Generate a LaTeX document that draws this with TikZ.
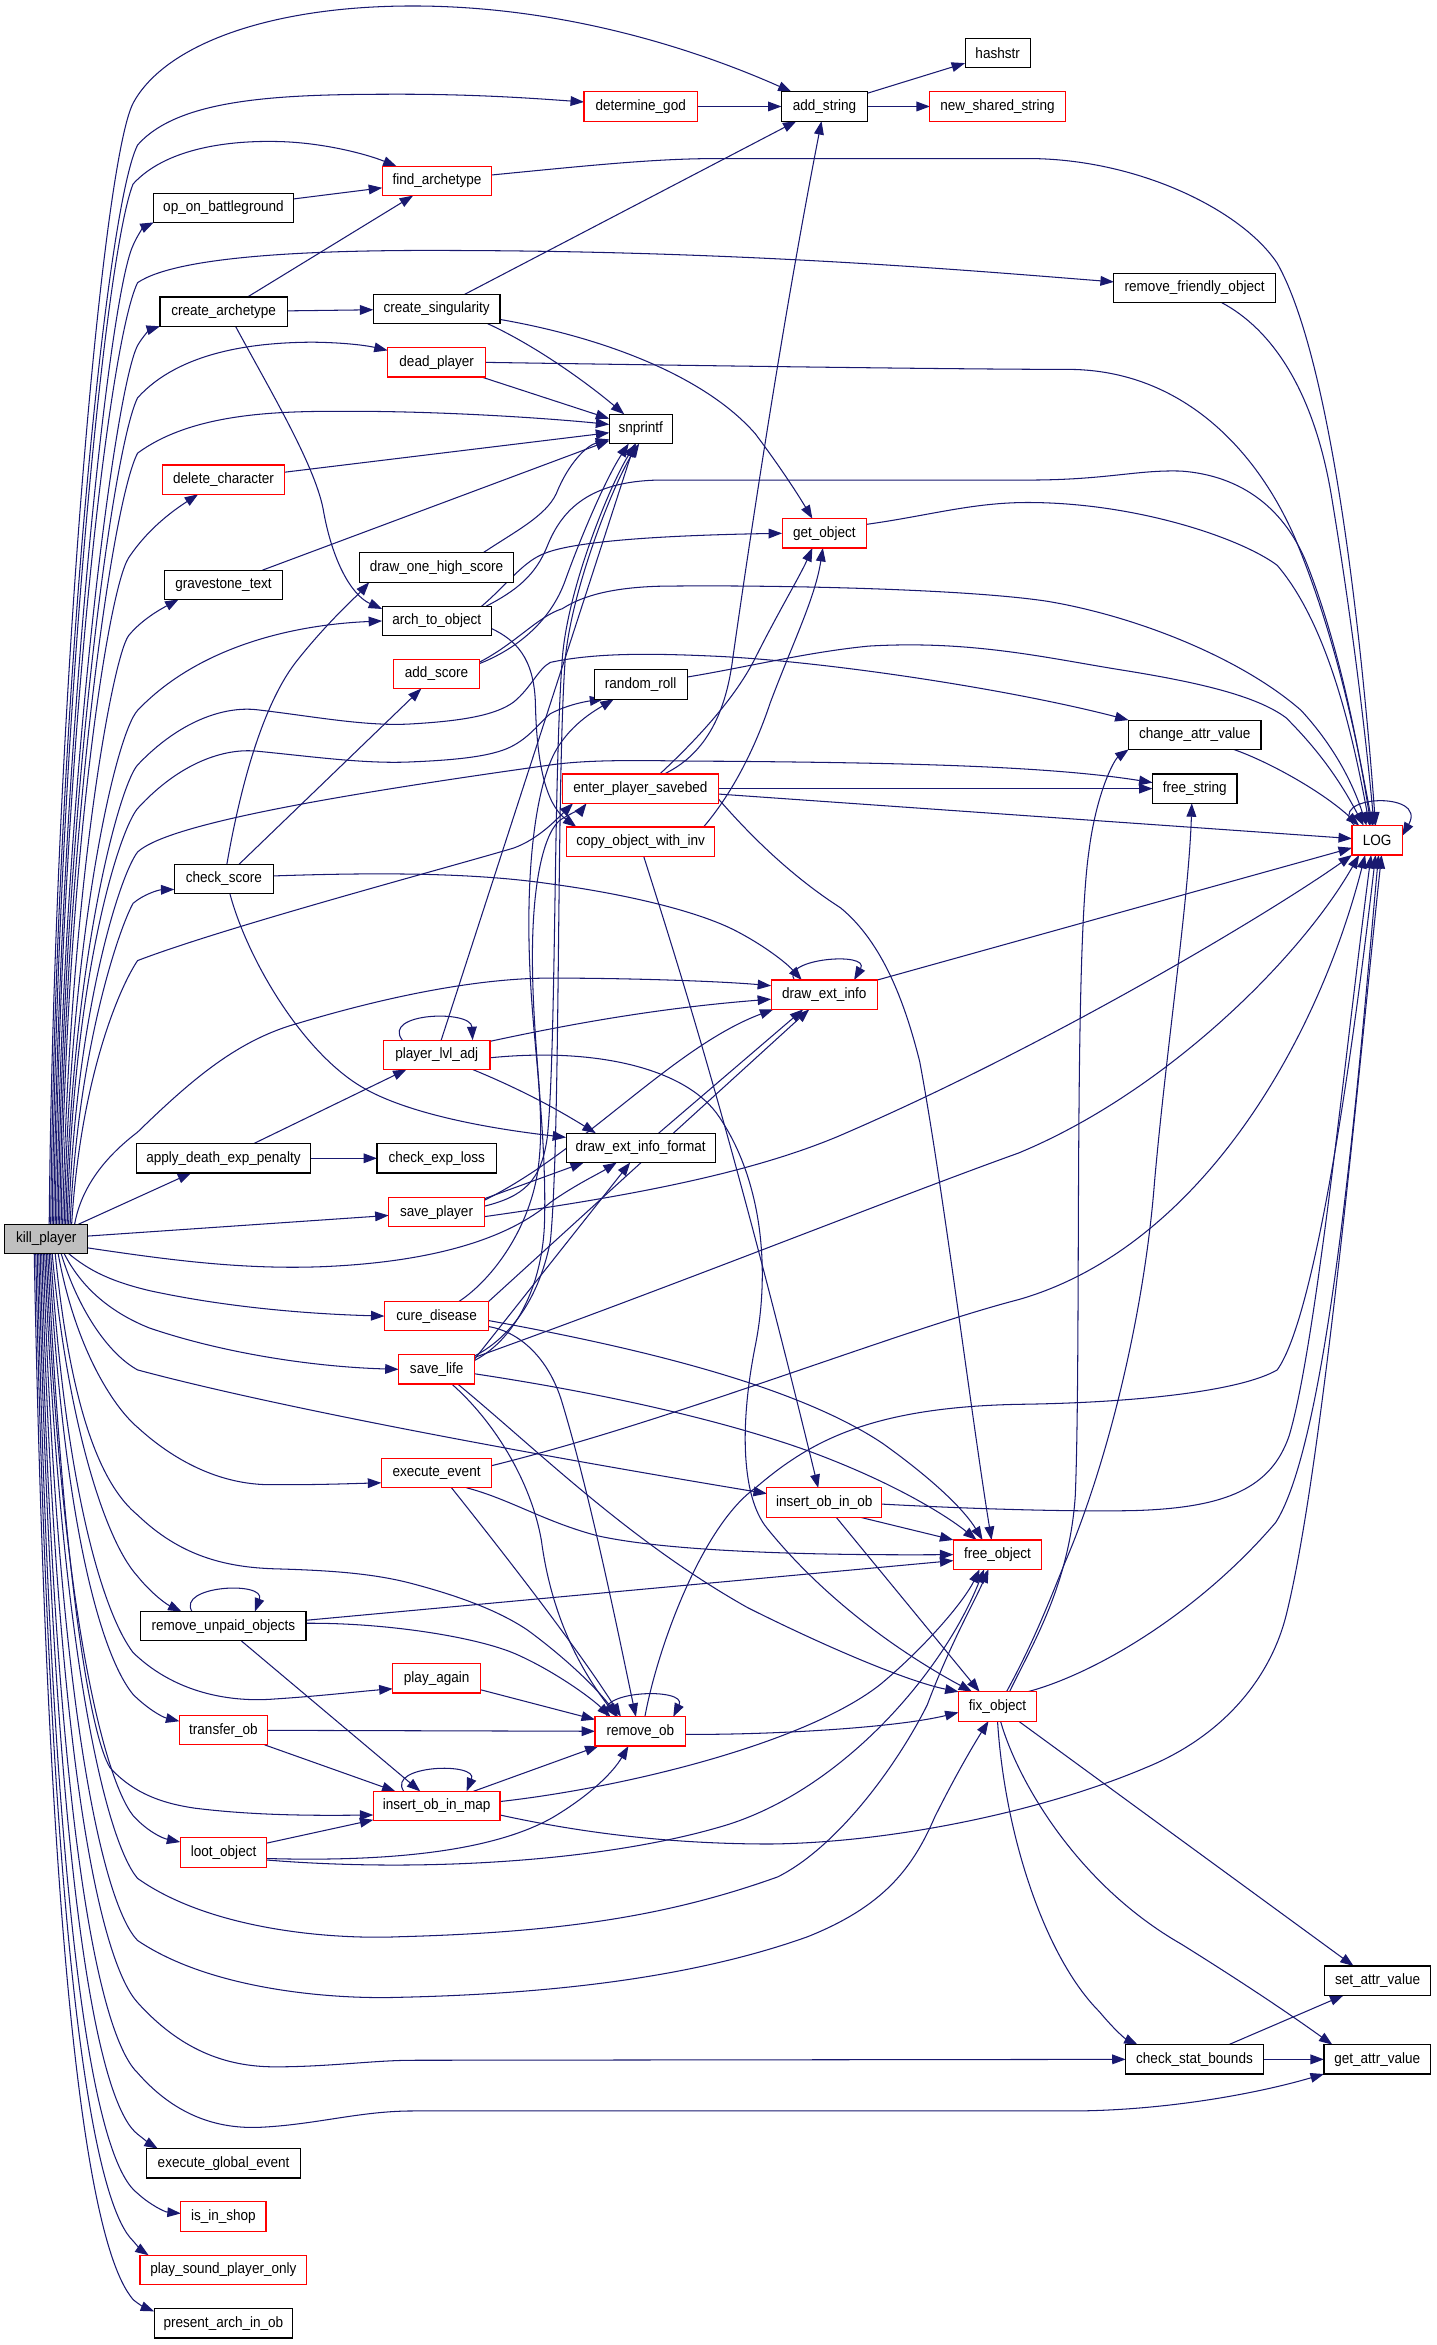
\documentclass[tikz,border=0pt]{standalone}
\usepackage{fontspec}
\setmainfont{Liberation Sans}[FakeStretch=0.905]
\usetikzlibrary{arrows.meta}
\pgfdeclarelayer{bg}
\pgfsetlayers{bg,main}
\definecolor{edgec}{HTML}{191970}
\definecolor{redb}{HTML}{FF0000}
\definecolor{kpfill}{HTML}{BFBFBF}
\begin{document}
\begin{tikzpicture}[x=1pt,y=-1pt,
  fb/.style={draw=black, fill=white, line width=0.75pt, minimum height=19.6pt, inner sep=0pt, outer sep=0pt, font=\fontsize{10}{12}\selectfont},
  fr/.style={fb, draw=redb},
  e/.style={draw=edgec, line width=0.7pt, -{Triangle[length=9pt,width=6.5pt]}},
]
\useasboundingbox (0,0) rectangle (960.8,1568);
% ---------------- nodes ----------------
\node[fb, fill=kpfill, minimum width=55.5pt] (kp) at (30.9,828.4) {kill\_player};
\node[fb, minimum width=43.6pt] (hashstr) at (667.1,35.5) {hashstr};
\node[fb, minimum width=57.5pt] (addstring) at (551.3,71.2) {add\_string};
\node[fr, minimum width=90.4pt] (newshared) at (667,71.2) {new\_shared\_string};
\node[fr, minimum width=75.8pt] (determinegod) at (428.4,71.2) {determine\_god};
\node[fr, minimum width=73.3pt] (findarchetype) at (292.2,121) {find\_archetype};
\node[fb, minimum width=93.2pt] (oponbattleground) at (149.4,138.9) {op\_on\_battleground};
\node[fb, minimum width=108pt] (removefriendlyobject) at (798.8,192.5) {remove\_friendly\_object};
\node[fb, minimum width=85pt] (createarchetype) at (149.5,208.4) {create\_archetype};
\node[fb, minimum width=84.7pt] (createsingularity) at (292,206.6) {create\_singularity};
\node[fr, minimum width=65.6pt] (deadplayer) at (292,242.3) {dead\_player};
\node[fb, minimum width=42pt] (snprintf) at (428.4,286.8) {snprintf};
\node[fr, minimum width=81.9pt] (deletecharacter) at (149.5,320.7) {delete\_character};
\node[fr, minimum width=56.5pt] (getobject) at (551.2,356.6) {get\_object};
\node[fb, minimum width=103.4pt] (drawonehighscore) at (291.9,379.5) {draw\_one\_high\_score};
\node[fb, minimum width=79.2pt] (gravestonetext) at (149.4,391) {gravestone\_text};
\node[fb, minimum width=73pt] (archtoobject) at (292,415.2) {arch\_to\_object};
\node[fr, minimum width=58pt] (addscore) at (291.9,450.6) {add\_score};
\node[fb, minimum width=62.3pt] (randomroll) at (428.4,457.7) {random\_roll};
\node[fb, minimum width=88.5pt] (changeattrvalue) at (798.9,491.3) {change\_attr\_value};
\node[fr, minimum width=104.4pt] (enterplayersavebed) at (428.2,527.3) {enter\_player\_savebed};
\node[fb, minimum width=56.5pt] (freestring) at (798.9,527.3) {free\_string};
\node[fr, minimum width=99.1pt] (copyobject) at (428.4,562.8) {copy\_object\_with\_inv};
\node[fr, minimum width=33.6pt] (LOG) at (920.8,561.9) {LOG};
\node[fb, minimum width=66.2pt] (checkscore) at (149.7,587.7) {check\_score};
\node[fr, minimum width=71pt] (drawextinfo) at (551.1,665.1) {draw\_ext\_info};
\node[fr, minimum width=71.2pt] (playerlvladj) at (292,705.3) {player\_lvl\_adj};
\node[fb, minimum width=116.6pt] (applydeath) at (149.4,774.5) {apply\_death\_exp\_penalty};
\node[fb, minimum width=79.8pt] (checkexploss) at (292,774.5) {check\_exp\_loss};
\node[fb, minimum width=99.7pt] (drawextinfoformat) at (428.4,767.5) {draw\_ext\_info\_format};
\node[fr, minimum width=64.1pt] (saveplayer) at (291.9,810.5) {save\_player};
\node[fr, minimum width=69.7pt] (curedisease) at (291.9,880) {cure\_disease};
\node[fr, minimum width=50.9pt] (savelife) at (292,915.6) {save\_life};
\node[fr, minimum width=73.9pt] (executeevent) at (291.9,985) {execute\_event};
\node[fr, minimum width=76.6pt] (insertobinob) at (551.1,1004.7) {insert\_ob\_in\_ob};
\node[fr, minimum width=59pt] (freeobject) at (667,1039.5) {free\_object};
\node[fb, minimum width=110.4pt] (removeunpaid) at (149.4,1087.4) {remove\_unpaid\_objects};
\node[fr, minimum width=58.9pt] (playagain) at (292,1122.2) {play\_again};
\node[fr, minimum width=52.1pt] (fixobject) at (667,1141) {fix\_object};
\node[fr, minimum width=58.9pt] (transferob) at (149.4,1156.9) {transfer\_ob};
\node[fr, minimum width=60.7pt] (removeob) at (428.2,1157.7) {remove\_ob};
\node[fr, minimum width=84.7pt] (insertobinmap) at (292,1207.6) {insert\_ob\_in\_map};
\node[fr, minimum width=57.9pt] (lootobject) at (149.5,1238.7) {loot\_object};
\node[fb, minimum width=70.7pt] (setattrvalue) at (921.1,1324.4) {set\_attr\_value};
\node[fb, minimum width=92pt] (checkstatbounds) at (798.7,1377) {check\_stat\_bounds};
\node[fb, minimum width=71.3pt] (getattrvalue) at (920.9,1377) {get\_attr\_value};
\node[fb, minimum width=103.3pt] (executeglobalevent) at (149.5,1446.5) {execute\_global\_event};
\node[fr, minimum width=57pt] (isinshop) at (149.4,1482) {is\_in\_shop};
\node[fr, minimum width=111.6pt] (playsound) at (149.4,1517.8) {play\_sound\_player\_only};
\node[fb, minimum width=92.6pt] (presentarch) at (149.4,1553.5) {present\_arch\_in\_ob};
% ---------------- edges ----------------
\begin{pgfonlayer}{bg}
\fill[white] (0,0) rectangle (960.8,1568);
% kill_player upward
\draw[e] ([xshift=2pt]kp.north) .. controls (36,480) and (68,110) .. (89,69) .. controls (110,30) and (180,4) .. (276,4) .. controls (380,4) and (470,35) .. ([xshift=-22pt]addstring.north);
\draw[e] ([xshift=3pt]kp.north) .. controls (37,490) and (70,140) .. (92,97) .. controls (120,65) and (190,63) .. (267,63) .. controls (320,63) and (360,66) .. ([yshift=3pt]determinegod.west);
\draw[e] ([xshift=4pt]kp.north) .. controls (38,500) and (70,170) .. (89,123) .. controls (110,100) and (150,94) .. (184,94.6) .. controls (215,95) and (245,103) .. ([xshift=-27pt]findarchetype.north);
\draw[e] ([xshift=5pt]kp.north) .. controls (39,520) and (72,200) .. (89,164) .. controls (92,157) and (96,152) .. (oponbattleground.south west);
\draw[e] ([xshift=6pt]kp.north) .. controls (40,520) and (72,230) .. (92,189) .. controls (120,170) and (220,167) .. (304,167.5) .. controls (500,168) and (650,181) .. ([yshift=4pt]removefriendlyobject.west);
\draw[e] ([xshift=7pt]kp.north) .. controls (41,540) and (76,262) .. (92,231) .. controls (96,224) and (101,220) .. (createarchetype.south west);
\draw[e] ([xshift=8pt]kp.north) .. controls (42,550) and (75,300) .. (92,266) .. controls (120,235) and (170,229) .. (208.6,228.8) .. controls (230,229) and (245,231) .. ([yshift=8pt]deadplayer.west);
\draw[e] ([xshift=9pt]kp.north) .. controls (43,560) and (75,335) .. (92,303) .. controls (130,275) and (190,275) .. (233,275) .. controls (300,275) and (370,280) .. ([yshift=3pt]snprintf.west);
\draw[e] ([xshift=10pt]kp.north) .. controls (44,580) and (72,395) .. (86,373) .. controls (100,352) and (118,340) .. ([xshift=-17pt]deletecharacter.south);
\draw[e] ([xshift=11pt]kp.north) .. controls (46,600) and (75,440) .. (86,425) .. controls (95,414) and (108,407) .. ([xshift=-30pt]gravestonetext.south);
\draw[e] ([xshift=12pt]kp.north) .. controls (47,620) and (78,490) .. (92,475) .. controls (130,435) and (190,418) .. (archtoobject.west);
\draw[e] ([xshift=13pt]kp.north) .. controls (48,640) and (80,525) .. (92,511.5) .. controls (120,482) and (150,472) .. (172,474.6) .. controls (210,479) and (245,486) .. (276,484) .. controls (310,482) and (332,478) .. (343.6,469.3) .. controls (355,460) and (360,447) .. (368,442.9) .. controls (400,436) and (440,437) .. (481,438.9) .. controls (560,443) and (680,462) .. (changeattrvalue.north west);
\draw[e] ([xshift=14pt]kp.north) .. controls (49,650) and (80,555) .. (92,540.6) .. controls (120,510) and (150,500) .. (172,502.3) .. controls (210,506) and (245,511) .. (276,509.4) .. controls (310,508) and (332,505) .. (343.6,498.3) .. controls (355,492) and (362,482) .. (368,477.2) .. controls (380,471) and (392,469) .. ([xshift=-25pt]randomroll.south);
\draw[e] ([xshift=15pt]kp.north) .. controls (50,680) and (80,585) .. (92,569.7) .. controls (110,553) and (200,535) .. (368,511.5) .. controls (400,507) and (440,509) .. (481,509) .. controls (600,510) and (700,512) .. ([yshift=4pt]freestring.west);
\draw[e] ([xshift=16pt]kp.north) .. controls (52,700) and (80,620) .. (89,604) .. controls (96,598) and (106,595) .. ([yshift=-7pt]checkscore.west);
\draw[e] ([xshift=17pt]kp.north) .. controls (54,720) and (80,660) .. (92,642.3) .. controls (150,620) and (300,580) .. (343.6,567) .. controls (360,561) and (372,548) .. ([xshift=-45pt]enterplayersavebed.south);
\draw[e] ([xshift=19pt]kp.north) .. controls (55,790) and (75,770) .. (92,757) .. controls (130,720) and (160,695) .. (200,684) .. controls (260,666) and (320,654) .. (368,654) .. controls (420,654) and (480,656) .. ([yshift=6pt]drawextinfo.west);
\draw[e] (kp) -- (applydeath);
\draw[e] (kp) -- (saveplayer);
\draw[e] ([yshift=-6pt]kp.east) .. controls (110,842) and (160,849) .. (214.7,847) .. controls (290,844) and (340,828) .. (368,804) .. controls (385,792) and (400,785) .. ([xshift=-16pt]drawextinfoformat.south);
% kill_player downward
\draw[e] ([xshift=15pt]kp.south) .. controls (60,850) and (75,857) .. (100,863) .. controls (160,876) and (220,879) .. (curedisease.west);
\draw[e] ([xshift=12pt]kp.south) .. controls (55,862) and (75,878) .. (100,888) .. controls (150,905) and (210,914) .. (savelife.west);
\draw[e] ([xshift=10pt]kp.south) .. controls (52,875) and (72,905) .. (92,916) .. controls (200,945) and (400,980) .. ([yshift=6pt]insertobinob.west);
\draw[e] ([xshift=8pt]kp.south) .. controls (50,900) and (75,940) .. (92,954.4) .. controls (120,980) and (150,992) .. (178,992.7) .. controls (210,993) and (235,992) .. ([yshift=-6.5pt]executeevent.west);
\draw[e] ([xshift=6pt]kp.south) .. controls (48,950) and (70,995) .. (92,1013) .. controls (120,1040) and (150,1048) .. (184,1049) .. controls (220,1050) and (250,1052) .. (276,1059) .. controls (310,1068) and (335,1078) .. (352.8,1090) .. controls (380,1110) and (400,1130) .. ([xshift=-15pt]removeob.north);
\draw[e] ([xshift=4pt]kp.south) .. controls (45,950) and (70,1030) .. (92,1054) .. controls (100,1064) and (110,1072) .. ([xshift=-28pt]removeunpaid.north);
\draw[e] ([xshift=3pt]kp.south) .. controls (44,1000) and (70,1080) .. (89,1105) .. controls (120,1135) and (160,1138) .. (184,1136) .. controls (215,1134) and (240,1131) .. ([yshift=-7pt]playagain.west);
\draw[e] ([xshift=2pt]kp.south) .. controls (43,1030) and (70,1110) .. (89,1133) .. controls (98,1142) and (108,1148) .. ([yshift=6pt]transferob.west);
\draw[e] ([xshift=1pt]kp.south) .. controls (42,1050) and (60,1160) .. (73.6,1182) .. controls (90,1200) and (110,1206) .. (130,1209) .. controls (170,1214) and (210,1214) .. ([yshift=-6pt]insertobinmap.west);
\draw[e] (kp.south) .. controls (41,1080) and (70,1190) .. (89,1214) .. controls (98,1224) and (108,1229) .. ([yshift=7pt]lootobject.west);
\draw[e] ([xshift=-1pt]kp.south) .. controls (40,1100) and (70,1230) .. (92,1256) .. controls (140,1290) and (220,1297) .. (267,1295) .. controls (380,1292) and (450,1280) .. (520,1255) .. controls (560,1235) and (600,1180) .. (620,1140) .. controls (635,1100) and (652,1070) .. ([xshift=-6pt]freeobject.south);
\draw[e] ([xshift=-2pt]kp.south) .. controls (39,1150) and (70,1275) .. (92,1297.5) .. controls (140,1330) and (220,1337) .. (267,1335.5) .. controls (380,1333) and (470,1320) .. (540,1295) .. controls (590,1275) and (610,1250) .. (625,1215) .. controls (640,1185) and (652,1165) .. ([xshift=-6pt]fixobject.south);
\draw[e] ([xshift=-3pt]kp.south) .. controls (38,1200) and (70,1315) .. (92,1339) .. controls (120,1370) and (150,1382) .. (184,1382) .. controls (220,1382) and (250,1377.6) .. (276,1377.6) -- (checkstatbounds.west);
\draw[e] ([xshift=-4pt]kp.south) .. controls (37,1250) and (70,1365) .. (92,1386) .. controls (120,1418) and (150,1423) .. (172,1422.5) .. controls (210,1421) and (240,1411.5) .. (276,1411.5) -- (718.8,1411.5) .. controls (780,1411) and (840,1400) .. (getattrvalue.south west);
\draw[e] ([xshift=-5pt]kp.south) .. controls (37,1300) and (70,1410) .. (92,1427) .. controls (97,1431) and (101,1434) .. ([xshift=-44pt]executeglobalevent.north);
\draw[e] ([xshift=-6pt]kp.south) .. controls (36,1350) and (70,1450) .. (92,1466.6) .. controls (100,1474) and (110,1479) .. ([yshift=2pt]isinshop.west);
\draw[e] ([xshift=-7pt]kp.south) .. controls (35,1380) and (70,1480) .. (89,1498.4) .. controls (92,1502) and (95,1505) .. ([xshift=-50pt]playsound.north);
\draw[e] ([xshift=-8pt]kp.south) .. controls (34,1420) and (70,1515) .. (89,1537.6) .. controls (93,1541) and (97,1543) .. ([yshift=8pt]presentarch.west);
% top area
\draw[e] (determinegod) -- (addstring);
\draw[e] (addstring) -- (hashstr);
\draw[e] (addstring) -- (newshared);
\draw[e] (oponbattleground) -- (findarchetype);
\draw[e] (createarchetype) -- (findarchetype);
\draw[e] (createarchetype) -- (createsingularity);
\draw[e] ([xshift=8pt]createarchetype.south) .. controls (180,260) and (210,310) .. (216,340) .. controls (222,375) and (235,398) .. ([yshift=8pt]archtoobject.west);
\draw[e] (createsingularity) -- (addstring);
\draw[e] ([xshift=34pt]createsingularity.south) .. controls (360,232) and (395,258) .. ([xshift=-11pt]snprintf.north);
\draw[e] ([yshift=-7pt]createsingularity.east) .. controls (400,225) and (470,250) .. (505,290) .. controls (520,310) and (532,328) .. ([xshift=-8pt]getobject.north);
\draw[e] (deadplayer) -- (snprintf);
\draw[e] (deletecharacter) -- (snprintf);
\draw[e] (gravestonetext) -- (snprintf);
\draw[e] ([xshift=31pt]drawonehighscore.north) .. controls (345,355) and (365,345) .. (372,330) .. controls (380,310) and (392,298) .. ([yshift=-7pt]snprintf.west);
\draw[e] ([xshift=30pt]archtoobject.north) .. controls (340,390) and (350,375) .. (365,369.7) .. controls (385,362) and (440,358) .. (getobject.west);
\draw[e] ([yshift=-5pt]archtoobject.east) .. controls (345,428) and (357,440) .. (358,470) .. controls (359,520) and (368,540) .. ([xshift=-43pt]copyobject.north);
\draw[e] ([yshift=7pt]addscore.east) .. controls (345,434) and (368,416) .. (378,388) .. controls (388,360) and (405,320) .. ([xshift=-8pt]snprintf.south);
% LOG top arrivals
\draw[e] ([yshift=4pt]findarchetype.east) .. controls (400,110) and (440,106) .. (481,106) -- (687,106) .. controls (760,106) and (830,140) .. (854,176) .. controls (890,240) and (910,420) .. ([xshift=-1pt]LOG.north);
\draw[e] ([xshift=18pt]removefriendlyobject.south) .. controls (850,220) and (878,260) .. (890,330) .. controls (905,420) and (914,500) .. ([xshift=-2pt]LOG.north);
\draw[e] (deadplayer.east) .. controls (500,245) and (650,247) .. (716,247) .. controls (790,248) and (840,300) .. (866,360) .. controls (895,430) and (908,500) .. ([xshift=-3pt]LOG.north);
\draw[e] ([xshift=33pt]archtoobject.north) .. controls (345,395) and (358,385) .. (366,365) .. controls (376,340) and (395,322) .. (440,321) -- (687,321) .. controls (740,321) and (760,314) .. (790,315) .. controls (830,318) and (860,340) .. (875,380) .. controls (898,440) and (910,510) .. ([xshift=-4pt]LOG.north);
\draw[e] ([yshift=6pt]getobject.east) .. controls (620,345) and (650,336) .. (687,336) .. controls (760,336) and (830,360) .. (854,378) .. controls (890,420) and (906,500) .. ([xshift=-5pt]LOG.north);
\draw[e] ([yshift=8pt]addscore.east) .. controls (345,430) and (360,412) .. (376,407) .. controls (390,398) and (410,393) .. (440,392) .. controls (500,391) and (640,393) .. (700,402) .. controls (760,412) and (830,440) .. (870,475) .. controls (893,500) and (905,525) .. ([xshift=-7pt]LOG.north);
\draw[e] ([yshift=5pt]randomroll.east) .. controls (500,446) and (540,436) .. (581,432) .. controls (650,428) and (700,440) .. (750,448) .. controls (800,456) and (840,465) .. (860,480) .. controls (880,500) and (895,520) .. ([xshift=-9pt]LOG.north);
\draw[e] ([xshift=26pt]changeattrvalue.south) .. controls (850,510) and (885,530) .. ([xshift=-12pt]LOG.north);
\draw[e] ([xshift=-15pt]LOG.north) .. controls (885,532) and (955,528) .. ([yshift=3pt]LOG.east);
% middle
\draw[e] ([xshift=13pt]enterplayersavebed.north) .. controls (460,500) and (490,470) .. (505,440) .. controls (520,410) and (535,385) .. ([xshift=-8pt]getobject.south);
\draw[e] ([xshift=16pt]enterplayersavebed.north) .. controls (470,505) and (485,480) .. (490,440) .. controls (510,300) and (530,180) .. ([xshift=-2pt]addstring.south);
\draw[e] (enterplayersavebed) -- (freestring);
\draw[e] (enterplayersavebed) -- (LOG);
\draw[e] ([yshift=-7pt]enterplayersavebed.east) .. controls (490,545) and (520,580) .. (562,607) .. controls (590,630) and (605,670) .. (615,710) .. controls (630,790) and (650,950) .. ([xshift=-4pt]freeobject.north);
\draw[e] ([xshift=42pt]copyobject.north) .. controls (490,530) and (505,500) .. (515,470) .. controls (530,430) and (545,400) .. ([xshift=-1pt]getobject.south);
\draw[e] ([xshift=2pt]copyobject.south) .. controls (455,650) and (490,760) .. ([xshift=-4pt]insertobinob.north);
\draw[e] (checkscore) -- (addscore);
\draw[e] ([xshift=2pt]checkscore.north) .. controls (160,530) and (175,470) .. (200,440) .. controls (220,415) and (240,397) .. ([xshift=-45pt]drawonehighscore.south);
\draw[e] ([yshift=2pt]checkscore.east) .. controls (260,583) and (320,584) .. (368,591) .. controls (420,598) and (470,610) .. (495,624) .. controls (510,632) and (525,643) .. ([xshift=-15pt]drawextinfo.north);
\draw[e] ([xshift=4pt]checkscore.south) .. controls (165,640) and (200,700) .. (239,725) .. controls (270,745) and (330,755) .. ([yshift=7pt]drawextinfoformat.west);
\draw[e] ([xshift=-23pt]playerlvladj.north) .. controls (255,677) and (315,675) .. ([xshift=24pt]playerlvladj.north);
\draw[e] ([xshift=3pt]playerlvladj.north) -- ([xshift=-4pt]snprintf.south);
\draw[e] ([yshift=9pt]playerlvladj.east) .. controls (380,685) and (440,674) .. ([yshift=-3pt]drawextinfo.west);
\draw[e] ([xshift=24pt]playerlvladj.south) .. controls (340,725) and (365,737) .. ([xshift=-30pt]drawextinfoformat.north);
\draw[e] ([yshift=-2pt]playerlvladj.east) .. controls (400,700) and (460,715) .. (481,747) .. controls (510,790) and (515,850) .. (505,900) .. controls (495,950) and (495,1000) .. (513,1022) .. controls (560,1080) and (620,1115) .. ([xshift=-17pt]fixobject.north);
\draw[e] (applydeath) -- (playerlvladj);
\draw[e] (applydeath) -- (checkexploss);
\draw[e] ([xshift=12pt]drawextinfoformat.north) -- ([xshift=-14pt]drawextinfo.south);
\draw[e] ([xshift=-20pt]drawextinfo.north) .. controls (522,641) and (582,636) .. ([xshift=20pt]drawextinfo.north);
\draw[e] (drawextinfo.north east) -- ([yshift=-5pt]LOG.west);
% save_player, cure_disease, save_life
\draw[e] ([yshift=4pt]saveplayer.east) .. controls (350,800) and (362,790) .. (366,760) .. controls (372,700) and (370,520) .. (376,440) .. controls (380,390) and (410,320) .. ([xshift=-3pt]snprintf.south);
\draw[e] ([yshift=9pt]saveplayer.east) -- ([xshift=-38pt]drawextinfoformat.south);
\draw[e] ([yshift=8pt]saveplayer.east) .. controls (390,770) and (450,700) .. ([xshift=-34pt]drawextinfo.south);
\draw[e] ([yshift=-3pt]saveplayer.east) .. controls (420,800) and (500,785) .. (560,760) .. controls (700,700) and (850,610) .. (LOG.south west);
\draw[e] ([xshift=15pt]curedisease.north) .. controls (330,855) and (355,820) .. (360,780) .. controls (365,740) and (356,700) .. (354,640) .. controls (352,580) and (358,530) .. (370,505) .. controls (380,485) and (398,475) .. ([xshift=-18pt]randomroll.south);
\draw[e] (curedisease.north east) -- ([xshift=-10pt]drawextinfo.south);
\draw[e] ([yshift=-3pt]curedisease.east) .. controls (420,900) and (530,925) .. (590,965) .. controls (625,990) and (645,1010) .. ([xshift=-10pt]freeobject.north);
\draw[e] ([yshift=-7pt]curedisease.east) .. controls (345,890) and (365,905) .. (375,935) .. controls (395,1000) and (415,1100) .. ([xshift=-3pt]removeob.north);
\draw[e] ([yshift=6pt]savelife.east) .. controls (345,895) and (362,860) .. (364,820) .. controls (366,760) and (356,700) .. (356,640) .. controls (356,585) and (365,555) .. (375,548) .. controls (385,542) and (390,540) .. ([xshift=-36pt]enterplayersavebed.south);
\draw[e] ([yshift=9pt]savelife.east) .. controls (340,895) and (360,870) .. (368,830) .. controls (375,760) and (372,520) .. (378,440) .. controls (383,390) and (412,320) .. ([xshift=-1pt]snprintf.south);
\draw[e] ([yshift=7pt]savelife.east) -- ([xshift=-7pt]drawextinfoformat.south);
\draw[e] ([yshift=8pt]savelife.east) .. controls (450,860) and (600,800) .. (681,771) .. controls (780,730) and (870,640) .. ([xshift=-12pt]LOG.south);
\draw[e] ([yshift=-3pt]savelife.east) .. controls (380,928) and (470,945) .. (540,970) .. controls (600,992) and (635,1015) .. ([xshift=-14pt]freeobject.north);
\draw[e] ([xshift=10pt]savelife.south) .. controls (330,950) and (355,990) .. (362,1030) .. controls (370,1090) and (395,1125) .. ([xshift=-16pt]removeob.north);
\draw[e] ([xshift=14pt]savelife.south) .. controls (360,970) and (420,1030) .. (500,1075) .. controls (560,1105) and (610,1125) .. (fixobject.north west);
% execute_event, insert_ob_in_ob
\draw[e] ([yshift=5pt]executeevent.east) .. controls (450,950) and (600,890) .. (681,869) .. controls (800,835) and (880,700) .. ([xshift=-8pt]LOG.south);
\draw[e] ([xshift=20pt]executeevent.south) .. controls (340,1002) and (365,1018) .. (400,1027) .. controls (450,1038) and (550,1040) .. (freeobject.west);
\draw[e] ([xshift=10pt]executeevent.south) .. controls (330,1030) and (385,1100) .. ([xshift=-13pt]removeob.north);
\draw[e] ([yshift=-1pt]insertobinob.east) .. controls (650,1009) and (720,1011) .. (760,1010) .. controls (820,1008) and (850,995) .. (862,960) .. controls (880,900) and (900,700) .. ([xshift=-4pt]LOG.south);
\draw[e] ([xshift=24pt]insertobinob.south) -- (freeobject.north west);
\draw[e] ([xshift=8pt]insertobinob.south) -- ([xshift=-12pt]fixobject.north);
% lower left group
\draw[e] ([xshift=-21pt]removeunpaid.north) .. controls (118,1060) and (178,1057) .. ([xshift=21pt]removeunpaid.north);
\draw[e] ([yshift=4pt]removeunpaid.east) -- ([yshift=-4pt]freeobject.west);
\draw[e] ([yshift=2pt]removeunpaid.east) .. controls (260,1085) and (320,1095) .. (345,1106) .. controls (370,1117) and (395,1135) .. ([xshift=-20pt]removeob.north);
\draw[e] ([xshift=12pt]removeunpaid.south) -- ([xshift=-11pt]insertobinmap.north);
\draw[e] (playagain) -- (removeob);
\draw[e] (transferob) -- (removeob);
\draw[e] (transferob) -- (insertobinmap);
\draw[e] ([xshift=-22pt]insertobinmap.north) .. controls (258,1180) and (320,1178) .. ([xshift=20pt]insertobinmap.north);
\draw[e] ([xshift=24.5pt]insertobinmap.north) -- ([xshift=-28pt]removeob.south);
\draw[e] ([yshift=3pt]insertobinmap.east) .. controls (420,1195) and (540,1165) .. (589,1126) .. controls (620,1100) and (645,1070) .. ([xshift=-12pt]freeobject.south);
\draw[e] ([yshift=-6pt]insertobinmap.east) .. controls (400,1228) and (460,1233) .. (515,1233) .. controls (600,1232) and (700,1210) .. (766,1182) .. controls (820,1160) and (850,1120) .. (860,1080) .. controls (885,980) and (910,700) .. ([xshift=3pt]LOG.south);
\draw[e] (lootobject) -- (insertobinmap);
\draw[e] ([yshift=-4pt]lootobject.east) .. controls (260,1245) and (330,1238) .. (370,1215) .. controls (395,1200) and (410,1185) .. ([xshift=-8pt]removeob.south);
\draw[e] ([yshift=-5pt]lootobject.east) .. controls (280,1252) and (400,1245) .. (480,1222) .. controls (560,1200) and (630,1120) .. ([xshift=-9pt]freeobject.south);
% remove_ob
\draw[e] ([xshift=-22pt]removeob.north) .. controls (395,1130) and (460,1128) .. ([xshift=22pt]removeob.north);
\draw[e] ([yshift=-2pt]removeob.east) .. controls (520,1160) and (600,1155) .. ([yshift=-4pt]fixobject.west);
\draw[e] ([xshift=3pt]removeob.north) .. controls (440,1100) and (470,1020) .. (505,995) .. controls (540,965) and (580,941) .. (681,939) .. controls (760,938) and (830,930) .. (854,916) .. controls (880,880) and (905,700) .. ([xshift=-1pt]LOG.south);
% fix_object
\draw[e] ([xshift=8pt]fixobject.north) .. controls (690,1100) and (715,1060) .. (719,1000) .. controls (723,900) and (718,640) .. (728,570) .. controls (733,530) and (745,508) .. (changeattrvalue.south west);
\draw[e] ([xshift=6pt]fixobject.north) .. controls (690,1100) and (700,1075) .. (712,1045) .. controls (740,980) and (765,880) .. (772,790) .. controls (780,700) and (795,600) .. ([xshift=-2pt]freestring.south);
\draw[e] ([xshift=20pt]fixobject.north) .. controls (730,1120) and (800,1080) .. (853,1018) .. controls (890,960) and (910,700) .. ([xshift=1pt]LOG.south);
\draw[e] ([xshift=14pt]fixobject.south) -- ([xshift=-16pt]setattrvalue.north);
\draw[e] ([xshift=2pt]fixobject.south) .. controls (680,1190) and (720,1260) .. (790,1300) .. controls (830,1325) and (860,1345) .. ([xshift=-30pt]getattrvalue.north);
\draw[e] (fixobject.south) .. controls (672,1230) and (700,1310) .. (735,1345) .. controls (745,1357) and (752,1363) .. ([xshift=-38pt]checkstatbounds.north);
\draw[e] (checkstatbounds) -- (setattrvalue);
\draw[e] (checkstatbounds) -- (getattrvalue);
\end{pgfonlayer}
\end{tikzpicture}
\end{document}
